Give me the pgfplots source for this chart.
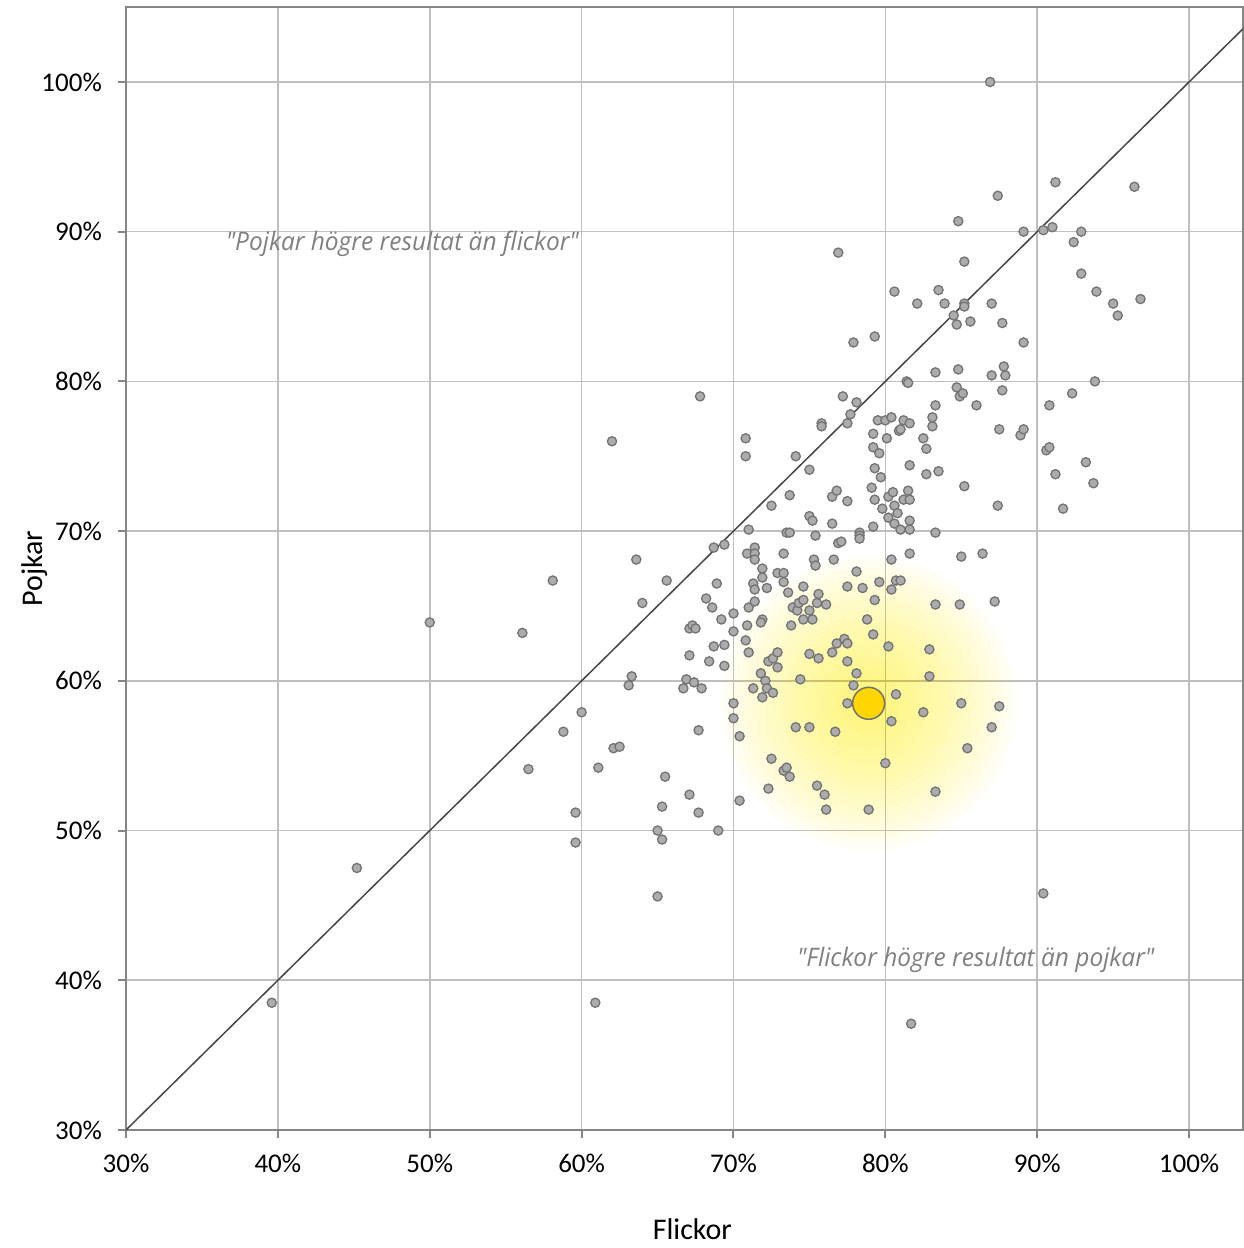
\documentclass[border=0pt]{standalone}
\usepackage{fontspec}
\setmainfont{Carlito}
\newfontfamily\notefont[FakeStretch=0.96]{Open Sans}
\usepackage{pgfplots}
\pgfplotsset{compat=1.18}

\definecolor{gridgray}{RGB}{191,191,191}
\definecolor{spinegray}{RGB}{134,134,134}
\definecolor{diaggray}{RGB}{70,70,70}
\definecolor{dotfill}{RGB}{172,172,172}
\definecolor{dotedge}{RGB}{115,115,115}
\definecolor{gold}{RGB}{255,214,0}
\definecolor{glowcol}{RGB}{255,236,0}
\definecolor{notegray}{RGB}{128,128,128}

% soft yellow halo round the highlighted school: stacked faint discs
% (pgf layer, so the centre is the mark position and not axis cs:0,0)
\pgfdeclareplotmark{glow}{%
  \pgfsetfillcolor{glowcol}%
  \pgfsetfillopacity{0.018}%
  \foreach \r in {4,8,...,148} {\pgfpathcircle{\pgfpointorigin}{\r pt}\pgfusepathqfill}%
}

\begin{document}
\begin{tikzpicture}
\begin{axis}[
    scale only axis,
    width=1117pt, height=1123pt,
    xmin=30, xmax=103.55,
    ymin=30, ymax=105.0,
    xtick={30,40,50,60,70,80,90,100},
    ytick={30,40,50,60,70,80,90,100},
    xticklabels={30\%,40\%,50\%,60\%,70\%,80\%,90\%,100\%},
    yticklabels={30\%,40\%,50\%,60\%,70\%,80\%,90\%,100\%},
    tick pos=left,
    tick align=outside,
    major tick length=8pt,
    tick style={spinegray, line width=2pt},
    axis line style={spinegray, line width=2pt},
    grid=major,
    major grid style={gridgray, line width=1.6pt},
    ticklabel style={font=\fontsize{27}{32}\selectfont, inner sep=0pt},
    xticklabel style={anchor=north, yshift=-16pt},
    yticklabel style={anchor=east, xshift=-16pt},
    xlabel={Flickor},
    ylabel={Pojkar},
    label style={font=\fontsize{30}{36}\selectfont},
    xlabel style={at={(axis description cs:0.507,-0.088)}, anchor=center},
    ylabel style={at={(axis description cs:-0.0815,0.5)}, anchor=center, rotate=0},
  ]

  % halo
  \addplot[only marks, mark=glow] coordinates {(78.9,58.5)};

  % equal-result line
  \addplot[no marks, diaggray, line width=1.5pt] coordinates {(30,30) (110,110)};

  % schools
  \addplot[only marks, mark=*, mark size=4.6pt,
           mark options={fill=dotfill, draw=dotedge, line width=1.3pt}]
  coordinates {
    (39.6,38.5) (45.2,47.5) (50.0,63.9) (56.1,63.2) (56.5,54.1) (58.1,66.7)
    (58.8,56.6) (60.0,57.9) (59.6,51.2) (59.6,49.2) (60.9,38.5) (61.1,54.2)
    (62.1,55.5) (62.5,55.6) (62.0,76.0) (63.1,59.7) (63.3,60.3) (63.6,68.1)
    (64.0,65.2) (65.6,66.7) (65.0,50.0) (65.3,49.4) (65.0,45.6) (65.3,51.6)
    (65.5,53.6) (66.7,59.5) (66.9,60.1) (67.4,59.9) (67.9,59.5) (67.1,61.7)
    (67.1,63.5) (67.3,63.7) (67.5,63.5) (67.1,52.4) (67.7,51.2) (67.7,56.7)
    (67.8,79.0) (68.2,65.5) (68.6,64.9) (68.4,61.3) (68.7,62.3) (68.7,68.9)
    (68.9,66.5) (69.0,50.0) (69.2,64.1) (69.4,62.4) (69.4,61.0) (69.4,69.1)
    (70.0,64.5) (70.0,63.3) (70.0,58.5) (70.0,57.5) (70.4,56.3) (70.4,52.0)
    (70.8,76.2) (70.8,75.0) (70.8,62.7) (70.9,63.7) (71.0,61.9) (71.0,70.1)
    (71.0,64.9) (71.4,65.3) (71.3,66.5) (71.4,66.1) (71.3,59.5) (70.9,68.5)
    (71.4,68.9) (71.4,68.5) (71.4,68.1) (71.8,60.5) (71.9,58.9) (72.1,60.0)
    (72.2,59.5) (72.6,59.2) (71.9,64.1) (71.8,63.9) (71.9,67.5) (71.9,66.9)
    (72.2,66.2) (72.3,61.3) (72.6,61.5) (72.9,61.9) (72.9,60.9) (72.5,71.7)
    (72.5,54.8) (72.3,52.8) (72.9,67.2) (73.3,67.2) (73.3,66.6) (73.3,68.5)
    (73.3,54.0) (73.5,54.2) (73.7,53.6) (73.5,69.9) (73.7,69.9) (73.6,65.9)
    (73.7,72.4) (73.8,63.7) (73.9,64.9) (74.2,64.7) (74.3,65.2) (74.6,65.4)
    (74.6,66.3) (74.6,64.1) (74.1,75.0) (74.1,56.9) (74.4,60.1) (75.0,74.1)
    (75.0,71.0) (75.2,70.7) (75.0,64.7) (75.2,64.1) (75.0,61.8) (75.0,56.9)
    (75.3,68.1) (75.4,67.7) (75.4,69.7) (75.5,65.2) (75.6,65.8) (75.6,61.5)
    (75.5,53.0) (75.8,77.2) (75.8,77.0) (76.0,52.4) (76.1,51.4) (76.1,65.1)
    (76.5,72.3) (76.5,70.5) (76.5,61.9) (76.6,68.1) (76.7,56.6) (76.8,72.7)
    (76.8,62.5) (76.9,69.2) (77.1,69.3) (76.9,88.6) (77.2,79.0) (77.3,62.8)
    (77.5,62.5) (77.5,77.2) (77.5,72.0) (77.5,66.3) (77.5,61.3) (77.5,58.5)
    (77.7,77.8) (77.9,82.6) (77.9,59.7) (78.1,78.6) (78.1,67.3) (78.1,60.5)
    (78.3,69.9) (78.3,69.7) (78.3,69.5) (78.5,66.2) (78.8,64.1) (78.9,51.4)
    (79.1,72.9) (79.2,76.5) (79.2,75.6) (79.2,70.3) (79.2,63.1) (79.3,83.0)
    (79.3,74.2) (79.3,72.1) (79.3,65.4) (79.5,77.4) (79.6,75.2) (79.6,66.6)
    (79.7,73.6) (79.8,71.5) (80.0,77.4) (80.0,54.5) (80.1,76.2) (80.2,72.3)
    (80.2,70.9) (80.2,62.3) (80.4,77.6) (80.4,68.1) (80.4,66.1) (80.4,57.3)
    (80.5,72.6) (80.6,86.0) (80.6,71.7) (80.6,70.5) (80.7,66.7) (80.7,59.1)
    (80.8,71.2) (80.9,76.7) (81.0,76.8) (81.0,70.1) (81.0,66.7) (81.2,77.4)
    (81.2,72.1) (81.4,80.0) (81.5,79.9) (81.5,72.7) (81.6,77.2) (81.6,74.4)
    (81.6,72.1) (81.6,70.7) (81.6,70.1) (81.6,68.5) (81.7,37.1) (82.1,85.2)
    (82.5,76.2) (82.5,57.9) (82.7,75.5) (82.7,73.8) (82.9,62.1) (82.9,60.3)
    (83.1,77.6) (83.1,77.0) (83.3,80.6) (83.3,78.4) (83.3,69.9) (83.3,65.1)
    (83.3,52.6) (83.5,86.1) (83.5,74.0) (83.9,85.2) (84.5,84.4) (84.7,83.8)
    (84.7,79.6) (84.8,90.7) (84.8,80.8) (84.9,79.0) (85.1,79.2) (84.9,65.1)
    (85.0,68.3) (85.0,58.5) (85.2,88.0) (85.2,85.2) (85.2,85.0) (85.2,73.0)
    (85.4,55.5) (85.6,84.0) (86.0,78.4) (86.4,68.5) (86.9,100.0) (87.0,85.2)
    (87.0,80.4) (87.0,56.9) (87.2,65.3) (87.4,92.4) (87.4,71.7) (87.5,76.8)
    (87.5,58.3) (87.7,83.9) (87.7,79.4) (87.8,81.0) (87.9,80.4) (88.9,76.4)
    (89.1,76.8) (89.1,90.0) (89.1,82.6) (90.4,45.8) (90.6,75.4) (90.8,75.6)
    (90.8,78.4) (90.4,90.1) (91.0,90.3) (91.2,93.3) (91.2,73.8) (91.7,71.5)
    (92.3,79.2) (92.9,87.2) (92.9,90.0) (92.4,89.3) (93.2,74.6) (93.7,73.2)
    (93.8,80.0) (93.9,86.0) (95.0,85.2) (95.3,84.4) (96.4,93.0) (96.8,85.5)
  };

  % highlighted school
  \addplot[only marks, mark=*, mark size=16pt,
           mark options={fill=gold, draw=dotedge, line width=1.5pt}]
  coordinates {(78.9,58.5)};

  \node[font=\notefont\itshape\fontsize{25.5}{30}\selectfont, text=notegray]
    at (axis cs:48.2,89.2) {"Pojkar högre resultat än flickor"};
  \node[font=\notefont\itshape\fontsize{25.5}{30}\selectfont, text=notegray]
    at (axis cs:85.95,41.35) {"Flickor högre resultat än pojkar"};
\end{axis}
\pgfresetboundingbox
\useasboundingbox (-126pt,-118pt) rectangle (1117pt,1130pt);
\end{tikzpicture}
\end{document}
